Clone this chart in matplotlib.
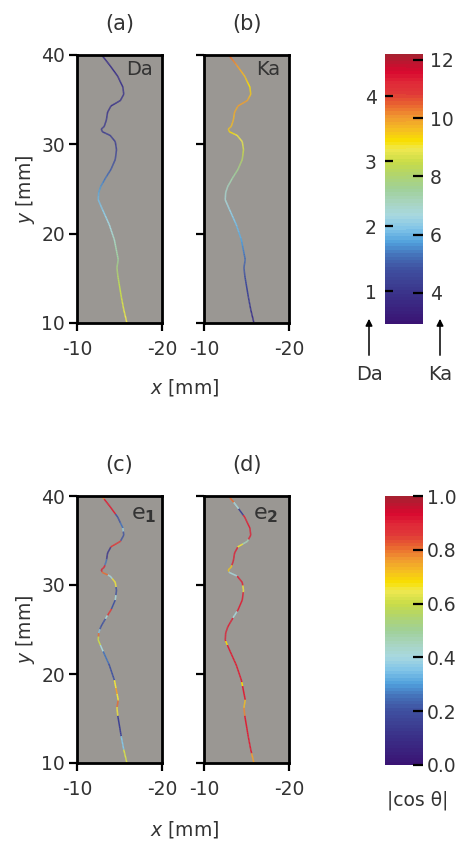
import numpy as np
import matplotlib
matplotlib.use('Agg')
import matplotlib.pyplot as plt
import matplotlib as mpl
from matplotlib.collections import LineCollection
from matplotlib.colors import LinearSegmentedColormap, Normalize

plt.rcParams['font.family'] = ['DejaVu Sans']
plt.rcParams['axes.unicode_minus'] = False

# ---------------- data ----------------
path_y = [40, 38.8, 37.6, 36.4, 35.6, 34.9, 34.3, 33.6, 32.7, 32.0, 31.7, 31.4, 31.0, 30.3, 29.4,
          28.3, 27.2, 26.3, 25.3, 24.6, 23.8, 22.7, 21.0, 19.3, 17.1, 16.2, 15.3, 13.0, 11.5, 10.1]
path_x = [-12.9, -13.9, -14.8, -15.4, -15.5, -15.1, -14.0, -13.6, -13.45, -13.2, -12.85, -13.0, -13.9,
          -14.5, -14.65, -14.5, -14.0, -13.4, -12.8, -12.55, -12.5, -13.0, -13.8, -14.4, -14.85,
          -14.7, -14.8, -15.2, -15.5, -15.85]
da_vals = [0.95, 0.95, 0.95, 1.0, 1.0, 1.0, 1.0, 1.0, 1.05, 1.05, 1.05, 1.05, 1.1, 1.1, 1.15,
           1.25, 1.4, 1.55, 1.7, 1.8, 1.9, 2.0, 2.15, 2.35, 2.55, 2.7, 2.8, 3.0, 3.1, 3.2]
ka_vals = [10.5, 10.0, 9.6, 9.2, 9.5, 9.9, 9.9, 9.8, 9.7, 9.6, 9.5, 9.3, 9.0, 8.9, 8.6,
           8.2, 7.7, 7.4, 7.1, 6.9, 6.8, 6.5, 6.1, 5.8, 5.2, 5.0, 4.8, 4.4, 4.1, 3.9]

# |cos theta| along the path, given in y bands (upper edge of each band, value)
e1_top = [40.0, 39.6, 38.0, 37.0, 36.4, 36.0, 35.0, 34.2, 32.9, 32.2, 31.5, 31.1, 30.7, 29.8, 28.8,
          28.3, 27.3, 26.6, 26.2, 25.0, 24.6, 24.2, 23.2, 22.6, 21.2, 19.3, 18.4, 17.8, 17.0, 16.3,
          15.2, 13.0, 11.5]
e1_val = [0.78, 0.9, 0.2, 0.25, 0.38, 0.2, 0.85, 0.12, 0.25, 0.9, 0.8, 0.4, 0.65, 0.2, 0.4,
          0.2, 0.85, 0.4, 0.2, 0.35, 0.8, 0.6, 0.4, 0.25, 0.2, 0.65, 0.75, 0.65, 0.8, 0.65,
          0.15, 0.35, 0.62]
e2_top = [40.0, 39.3, 38.6, 37.9, 35.1, 34.6, 34.2, 32.2, 31.5, 31.0, 29.9, 29.2, 27.0, 26.3, 23.7,
          23.3, 19.1, 18.6, 17.1, 16.2, 15.2, 11.1]
e2_val = [0.8, 0.4, 0.15, 0.9, 0.45, 0.65, 0.9, 0.7, 0.4, 0.9, 0.65, 0.9, 0.4, 0.9, 0.68,
          0.9, 0.68, 0.9, 0.72, 0.78, 0.9, 0.75]

da_ticks = [1, 2, 3, 4]
ka_ticks = [4, 6, 8, 10, 12]
cos_ticks = [0.0, 0.2, 0.4, 0.6, 0.8, 1.0]
x_ticks = [-10, -20]
y_ticks = [10, 20, 30, 40]

# ---------------- colormap ----------------
cm_pos = [0.0, 0.1, 0.2, 0.25, 0.3, 0.35, 0.4, 0.45, 0.5, 0.55, 0.6, 0.65, 0.68, 0.72,
          0.77, 0.82, 0.86, 0.9, 0.94, 1.0]
cm_col = ['#3a1474', '#3a3088', '#3f50a0', '#4470b8', '#50a0dc', '#80c4e8', '#a8d8e0', '#a8d4c0',
          '#a0d098', '#b0d470', '#c8dc48', '#f0e850', '#f8e000', '#f5c020', '#f09830', '#e86030',
          '#e03838', '#e02838', '#d8082f', '#a82030']
cmap = LinearSegmentedColormap.from_list('rb', list(zip(cm_pos, cm_col)), N=80)

W, H = 457, 842
fig = plt.figure(figsize=(W / 100, H / 100), dpi=100)


def box(l, t, r, b):
    return [l / W, 1 - b / H, (r - l) / W, (b - t) / H]


TXT = '#333333'
BG = '#9a9793'
FS = 13.5


def setup(ax, ylabels=True):
    ax.set_facecolor(BG)
    ax.set_xlim(-10, -20)
    ax.set_ylim(10, 40)
    ax.set_xticks(x_ticks)
    ax.set_yticks(y_ticks)
    for s in ax.spines.values():
        s.set_linewidth(2.0)
        s.set_color('black')
    ax.tick_params(axis='both', direction='out', length=6, width=1.6, color='black',
                   labelsize=FS, labelcolor=TXT)
    ax.tick_params(axis='x', pad=6)
    ax.tick_params(axis='y', pad=2.5)
    if not ylabels:
        ax.set_yticklabels([])


def subdivide(px, py, n=10):
    xs, ys, ts = [], [], []
    for i in range(len(px) - 1):
        for k in range(n):
            t = k / n
            xs.append(px[i] + (px[i + 1] - px[i]) * t)
            ys.append(py[i] + (py[i + 1] - py[i]) * t)
            ts.append(i + t)
    xs.append(px[-1]); ys.append(py[-1]); ts.append(len(px) - 1)
    return np.array(xs), np.array(ys), np.array(ts)


fx, fy, ft = subdivide(path_x, path_y)
pts = np.column_stack([fx, fy])
segs = np.stack([pts[:-1], pts[1:]], axis=1)
mid_t = 0.5 * (ft[:-1] + ft[1:])
mid_y = 0.5 * (fy[:-1] + fy[1:])


def band_values(tops, vals):
    tops = np.array(tops)
    out = []
    for y in mid_y:
        idx = np.where(tops >= y)[0]
        out.append(vals[idx[-1]] if len(idx) else vals[0])
    return np.array(out)


def draw(ax, values, norm):
    lc = LineCollection(segs, cmap=cmap, norm=norm, linewidths=1.1, capstyle='butt')
    lc.set_array(values)
    ax.add_collection(lc)


da_norm = Normalize(0.5, 4.65)
ka_norm = Normalize(2.93, 12.2)
cos_norm = Normalize(0.0, 1.0)

ax_a = fig.add_axes(box(77, 55, 162, 323))
ax_b = fig.add_axes(box(204, 55, 289, 323))
ax_c = fig.add_axes(box(77, 496, 162, 763))
ax_d = fig.add_axes(box(204, 496, 289, 763))
setup(ax_a, True)
setup(ax_b, False)
setup(ax_c, True)
setup(ax_d, False)

draw(ax_a, np.interp(mid_t, np.arange(len(da_vals)), da_vals), da_norm)
draw(ax_b, np.interp(mid_t, np.arange(len(ka_vals)), ka_vals), ka_norm)
draw(ax_c, band_values(e1_top, e1_val), cos_norm)
draw(ax_d, band_values(e2_top, e2_val), cos_norm)

for ax, t in [(ax_a, '(a)'), (ax_b, '(b)'), (ax_c, '(c)'), (ax_d, '(d)')]:
    ax.set_title(t, fontsize=15, color=TXT, pad=18)

ax_a.text(0.73, 0.945, 'Da', transform=ax_a.transAxes, ha='center', va='center', fontsize=14, color=TXT)
ax_b.text(0.75, 0.945, 'Ka', transform=ax_b.transAxes, ha='center', va='center', fontsize=14, color=TXT)
ax_c.text(0.78, 0.93, r'$\mathregular{e}_{\mathbf{1}}$', transform=ax_c.transAxes, ha='center',
          va='center', fontsize=16, color=TXT)
ax_d.text(0.73, 0.93, r'$\mathregular{e}_{\mathbf{2}}$', transform=ax_d.transAxes, ha='center',
          va='center', fontsize=16, color=TXT)

ax_a.set_ylabel(r'$y$ [mm]', fontsize=FS, color=TXT, labelpad=3)
ax_c.set_ylabel(r'$y$ [mm]', fontsize=FS, color=TXT, labelpad=3)

# ---------------- colorbars ----------------
cax_da = fig.add_axes(box(385, 54, 406, 324))
cax_ka = fig.add_axes(box(406, 54, 423, 324))
cax_cos = fig.add_axes(box(385, 496, 423, 765))

cb_da = fig.colorbar(mpl.cm.ScalarMappable(norm=da_norm, cmap=cmap), cax=cax_da)
cb_ka = fig.colorbar(mpl.cm.ScalarMappable(norm=ka_norm, cmap=cmap), cax=cax_ka)
cb_cos = fig.colorbar(mpl.cm.ScalarMappable(norm=cos_norm, cmap=cmap), cax=cax_cos)
for cb in (cb_da, cb_ka, cb_cos):
    cb.outline.set_visible(False)

cb_da.set_ticks(da_ticks)
cb_da.set_ticklabels([str(v) for v in da_ticks])
cax_da.yaxis.set_ticks_position('left')
cax_da.yaxis.set_label_position('left')
cax_da.tick_params(direction='in', length=6, width=1.6, color='black', labelsize=FS,
                   labelcolor=TXT, pad=6)

cb_ka.set_ticks(ka_ticks)
cb_ka.set_ticklabels([str(v) for v in ka_ticks])
cax_ka.yaxis.set_ticks_position('right')
cax_ka.tick_params(direction='in', length=7, width=1.6, color='black', labelsize=FS,
                   labelcolor=TXT, pad=5)

cb_cos.set_ticks(cos_ticks)
cb_cos.set_ticklabels([f'{v:.1f}' for v in cos_ticks])
cax_cos.yaxis.set_ticks_position('right')
cax_cos.tick_params(direction='in', length=7, width=1.6, color='black', labelsize=FS,
                    labelcolor=TXT, pad=3)

# ---------------- overlay texts / arrows ----------------
ov = fig.add_axes([0, 0, 1, 1])
ov.set_xlim(0, W)
ov.set_ylim(H, 0)
ov.axis('off')
ov.patch.set_alpha(0)

ov.text(185, 387, r'$x$ [mm]', ha='center', va='center', fontsize=FS, color=TXT)
ov.text(185, 829, r'$x$ [mm]', ha='center', va='center', fontsize=FS, color=TXT)

for xa, lab in [(369, 'Da'), (440, 'Ka')]:
    ov.annotate('', xy=(xa, 316), xytext=(xa, 358),
                arrowprops=dict(arrowstyle='-|>', color='black', lw=1.1, mutation_scale=10))
    ov.text(xa, 374, lab, ha='center', va='center', fontsize=14, color=TXT)

ov.text(418, 800, '|cos θ|', ha='center', va='center', fontsize=FS, color=TXT)

fig.savefig('out.png', dpi=100)
